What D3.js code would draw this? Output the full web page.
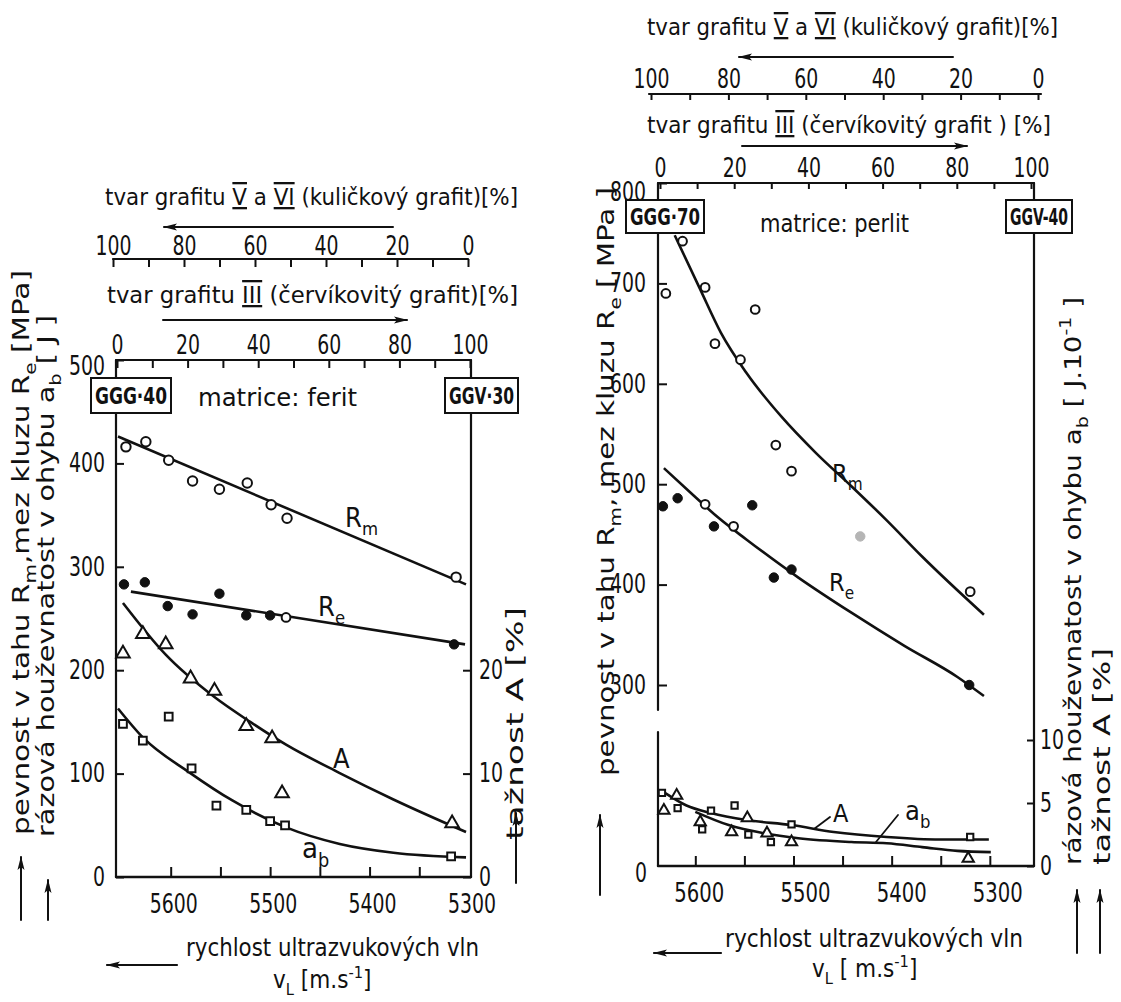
<!DOCTYPE html>
<html><head><meta charset="utf-8">
<script src="https://cdn.jsdelivr.net/npm/d3@7"></script>
<style>
body{margin:0;background:#fff}
svg{display:block;background:#fff}
text{font-family:"DejaVu Sans Condensed","DejaVu Sans",sans-serif;font-weight:bold;fill:#111}
</style></head><body>
<script>
// ================= DATA =================
const pctTickValues = [0,10,20,30,40,50,60,70,80,90,100];
const pctLabels = [0,20,40,60,80,100];

// left panel (matrice: ferit)
const L_velTicks = [5600,5550,5500,5450,5400,5350];
const L_velLabels = [5600,5500,5400,5300];
const L_stressTicks = [0,100,200,300,400,500];
const L_elongTicks = [0,10,20];
const L_Rm_pts = [[5645,416],[5625,421],[5602,403],[5578,383],[5551,375],[5523,381],[5499,360],[5483,347],[5313,290]];
const L_Rm_fit = [[5653,426],[5303,283]];
const L_Re_pts = [[5647,283],[5626,285],[5603,262],[5578,254],[5551,274],[5524,253],[5500,253],[5315,225]];
const L_Re_open = [[5484,251]];
const L_Re_fit = [[5640,276],[5304,225]];
const L_A_pts = [[5648,21.6],[5628,23.5],[5605,22.5],[5580,19.2],[5556,18.0],[5524,14.6],[5498,13.4],[5488,8.1],[5317,5.2]];
const L_A_fit = [[5648,26.5],[5605,21.5],[5556,17.4],[5520,15.0],[5484,12.8],[5431,10.1],[5376,7.5],[5303,4.35]];
const L_ab_pts = [[5648,148],[5628,132],[5602,155],[5579,105],[5554,69],[5524,65],[5500,54],[5485,50],[5318,20]];
const L_ab_fit = [[5653,163],[5628,135],[5581,101],[5538,74],[5484,48],[5430,32],[5376,23.5],[5303,19]];

// right panel (matrice: perlit)
const R_velTicks = [5600,5550,5500,5450,5400,5350,5300];
const R_velLabels = [5600,5500,5400,5300];
const R_stressTicks = [300,400,500,600,700,800];
const R_lowTicks = [0,5,10];
const R_Rm_pts = [[5630,690],[5613,742],[5590,696],[5580,640],[5554,624],[5539,674],[5518,539],[5502,513],[5320,393]];
const R_Rm_fit = [[5621,748],[5595,694],[5574,651],[5548,611],[5512,567],[5477,531],[5441,498],[5405,464],[5369,428],[5306,370]];
const R_Re_pts = [[5633,478],[5618,486],[5581,458],[5542,479],[5520,407],[5502,415],[5321,300]];
const R_Re_open = [[5590,480],[5561,458]];
const R_Re_fit = [[5632,516],[5602,489],[5577,467],[5548,445],[5495,407],[5441,372],[5387,339],[5333,308],[5306,289]];
const R_grey = [[5432,448]];
const R_A_pts = [[5632,4.4],[5619,5.6],[5595,3.5],[5563,2.7],[5547,3.8],[5527,2.6],[5502,1.9],[5322,0.6]];
const R_A_fit = [[5631,5.8],[5609,4.8],[5584,4.2],[5548,3.65],[5502,3.25],[5459,2.7],[5405,2.3],[5351,2.1],[5301,2.1]];
const R_ab_pts = [[5634,5.8],[5618,4.6],[5584,4.4],[5593,2.9],[5560,4.8],[5546,2.5],[5523,1.9],[5502,3.3],[5320,2.3]];
const R_ab_fit = [[5600,4.3],[5566,3.25],[5530,2.6],[5495,2.2],[5441,1.9],[5405,1.8],[5369,1.5],[5333,1.2],[5299,1.1]];

// ================= HELPERS =================
const W=1121,H=1002;
const svg=d3.select("body").append("svg").attr("width",W).attr("height",H);
const defs=svg.append("defs");
defs.append("marker").attr("id","ah").attr("viewBox","0 0 14 8").attr("refX",13).attr("refY",4)
  .attr("markerWidth",14).attr("markerHeight",8).attr("markerUnits","userSpaceOnUse").attr("orient","auto")
  .append("path").attr("d","M0,0.5 L14,4 L0,7.5 L3,4 Z").attr("fill","#111");

function rich(sel,str,fs){
  const parts=str.split(/(_\{[^}]*\}|\^\{[^}]*\}|\|[^|]*\|)/).filter(s=>s.length);
  let shift=0;
  parts.forEach(p=>{
    const ts=sel.append("tspan");
    let target=0,txt=p,small=false,bar=false;
    if(p.startsWith("_{")){target=0.3*fs;txt=p.slice(2,-1);small=true;}
    else if(p.startsWith("^{")){target=-0.42*fs;txt=p.slice(2,-1);small=true;}
    else if(p.startsWith("|")){txt=p.slice(1,-1);bar=true;}
    if(target!==shift){ts.attr("dy",(target-shift));shift=target;}
    if(small)ts.style("font-size",(fs*0.68)+"px");
    if(bar)ts.style("text-decoration","underline overline");
    ts.text(txt);
  });
}
function label(x,y,str,fs,opt={}){
  const t=svg.append("text").attr("x",x).attr("y",y).style("font-size",fs+"px")
    .attr("text-anchor",opt.anchor||"start");
  if(opt.w)t.style("font-weight",opt.w);
  if(opt.len)t.attr("textLength",opt.len).attr("lengthAdjust","spacingAndGlyphs");
  if(opt.rot){t.attr("transform",`rotate(-90,${x},${y})`);}
  rich(t,str,fs);
  return t;
}
function line(x1,y1,x2,y2,w=2,arrow=false){
  const l=svg.append("line").attr("x1",x1).attr("y1",y1).attr("x2",x2).attr("y2",y2)
    .attr("stroke","#111").attr("stroke-width",w).attr("stroke-linecap","round");
  if(arrow)l.attr("marker-end","url(#ah)");
}
function box(x,y,w,h,str,fs){
  svg.append("rect").attr("x",x).attr("y",y).attr("width",w).attr("height",h)
    .attr("fill","#fff").attr("stroke","#111").attr("stroke-width",2);
  label(x+w/2,y+h/2+fs*0.36,str,fs,{anchor:"middle",len:w-8});
}
function curve(data,x,y,w=2.6,cv=d3.curveMonotoneX){
  const d=[...data].sort((a,b)=>x(a[0])-x(b[0]));
  svg.append("path").attr("d",d3.line().x(p=>x(p[0])).y(p=>y(p[1])).curve(cv)(d))
    .attr("fill","none").attr("stroke","#111").attr("stroke-width",w);
}
function points(data,x,y,type,filled,size,col="#111"){
  const sym={circle:d3.symbolCircle,triangle:d3.symbolTriangle,square:d3.symbolSquare}[type];
  svg.append("g").selectAll("path").data(data).join("path")
    .attr("transform",p=>`translate(${x(p[0])},${y(p[1])})`)
    .attr("d",d3.symbol().type(sym).size(size))
    .attr("fill",filled?col:"#fff").attr("stroke",col).attr("stroke-width",filled?1:2);
}
function numFit(sel,per){
  sel.each(function(){const s=this.textContent;if(s.length)d3.select(this).attr("textLength",s.length*per).attr("lengthAdjust","spacingAndGlyphs");});
}
function styleAxis(g,fs,per=12){
  g.select(".domain").remove();
  g.selectAll(".tick line").attr("stroke","#111").attr("stroke-width",2);
  const t=g.selectAll(".tick text").style("font-size",fs+"px").attr("fill","#111")
   .style("font-family",'"DejaVu Sans Condensed","DejaVu Sans",sans-serif').style("font-weight","normal");
  numFit(t,per);
  return g;
}
const fmtPct=d=>pctLabels.includes(d)?d:"";

// ================= LEFT PANEL =================
{
  const X0=116,X1=471,Y0=360,Y1=877;
  const x=d3.scaleLinear().domain([5655,5298]).range([X0,X1]);
  const y=d3.scaleLinear().domain([0,500]).range([Y1,Y0]);
  const yA=d3.scaleLinear().domain([0,50]).range([Y1,Y0]);
  const pLow=d3.scaleLinear().domain([0,100]).range([X0+1,X1-1]);
  const pUp=d3.scaleLinear().domain([100,0]).range([113,468]);

  styleAxis(svg.append("g").attr("transform",`translate(0,259)`)
    .call(d3.axisTop(pUp).tickValues(pctTickValues).tickFormat(fmtPct).tickSize(-8).tickPadding(4)),26);
  line(113,259,468,259,2.2);
  styleAxis(svg.append("g").attr("transform",`translate(0,${Y0})`)
    .call(d3.axisTop(pLow).tickValues(pctTickValues).tickFormat(fmtPct).tickSize(-8).tickPadding(6)),26);
  label(105,205,"tvar  grafitu |V| a |VI| (kuličkový grafit)[%]",23,{len:413,w:"normal"});
  line(393,227,164,227,2,true);
  label(107,303,"tvar  grafitu |III|    (červíkovitý grafit)[%]",23,{len:411,w:"normal"});
  line(163,320,407,320,2,true);

  line(X0,Y0,X1,Y0,2.2); line(X0,Y0,X0,Y1,2.2); line(X1,Y0,X1,Y1,2.2); line(X0,Y1,X1,Y1,2.4);

  const ga=styleAxis(svg.append("g").attr("transform",`translate(${X0},0)`)
    .call(d3.axisLeft(y).tickValues(L_stressTicks).tickSize(-8).tickPadding(11)),26);
  ga.selectAll(".tick text").filter(d=>d===500).attr("y",6);
  styleAxis(svg.append("g").attr("transform",`translate(${X1},0)`)
    .call(d3.axisRight(yA).tickValues(L_elongTicks).tickSize(-8).tickPadding(8)),26);
  styleAxis(svg.append("g").attr("transform",`translate(0,${Y1})`)
    .call(d3.axisBottom(x).tickValues(L_velTicks).tickFormat(()=>"" ).tickSize(-10)),26);
  numFit(svg.append("g").selectAll("text").data(L_velLabels).join("text")
    .attr("x",d=>x(d)+3).attr("y",913).attr("text-anchor","middle").style("font-size","26px").style("font-weight","normal").text(d=>d),12);

  box(91,378,80,35,"GGG·40",23);
  box(445,378,73,35,"GGV·30",23);
  label(198,406,"matrice:  ferit",24,{len:159,w:"normal"});

  curve(L_Rm_fit,x,y,2.6,d3.curveLinear);
  curve(L_Re_fit,x,y,2.6,d3.curveLinear);
  curve(L_A_fit,x,yA);
  curve(L_ab_fit,x,y);
  points(L_Rm_pts,x,y,"circle",false,70);
  points(L_Re_pts,x,y,"circle",true,70);
  points(L_Re_open,x,y,"circle",false,60);
  points(L_A_pts,x,yA,"triangle",false,80);
  points(L_ab_pts,x,y,"square",false,60);

  label(345,527,"R_{m}",27,{w:"normal"});
  label(318,616,"R_{e}",27,{w:"normal"});
  label(333,768,"A",27,{w:"normal"});
  label(302,858,"a_{b}",29,{w:"normal"});

  label(29,835,"pevnost  v  tahu  R_{m},mez  kluzu  R_{e} [MPa]",23,{rot:true,len:565,w:"normal"});
  label(54,837,"rázová  houževnatost  v  ohybu  a_{b} [ J ]",23,{rot:true,len:522,w:"normal"});
  line(21,920,21,857,2,true);
  line(48,920,48,880,2,true);
  label(523,840,"tažnost  A [%]",23,{rot:true,len:233,w:"normal"});
  line(516,883,516,813,2,true);
  label(186,956,"rychlost  ultrazvukových  vln",24,{len:293,w:"normal"});
  label(273,988,"v_{L}  [m.s^{-1}]",24,{w:"normal"});
  line(177,965,107,965,2.2,true);
}

// ================= RIGHT PANEL =================
{
  const X0=658,X1=1034,Y0=183,YB=710,YL0=732,Y1=866;
  const x=d3.scaleLinear().domain([5638,5255]).range([X0,X1]);
  const y=d3.scaleLinear().domain([300,800]).range([685,183]);
  const yl=d3.scaleLinear().domain([0,10]).range([Y1,740]);
  const pLow=d3.scaleLinear().domain([0,100]).range([X0+2,X1-3]);
  const pUp=d3.scaleLinear().domain([100,0]).range([651,1038]);

  styleAxis(svg.append("g").attr("transform",`translate(0,94)`)
    .call(d3.axisTop(pUp).tickValues(pctTickValues).tickFormat(fmtPct).tickSize(-6).tickPadding(6)),26);
  line(649,94,1041,94,2.2);
  styleAxis(svg.append("g").attr("transform",`translate(0,${Y0})`)
    .call(d3.axisTop(pLow).tickValues(pctTickValues).tickFormat(fmtPct).tickSize(-6).tickPadding(6)),26);
  label(647,35,"tvar grafitu |V| a |VI| (kuličkový grafit)[%]",23,{len:411,w:"normal"});
  line(953,57,739,57,2,true);
  label(647,133,"tvar  grafitu |III| (červíkovitý grafit ) [%]",23,{len:404,w:"normal"});
  line(742,146,967,146,2,true);

  line(X0,Y0,X1,Y0,2.2); line(X0,Y0,X0,YB,2.2); line(X0,YL0,X0,Y1,2.2);
  line(X1,Y0,X1,Y1,2.2); line(X0,Y1,X1,Y1,2.4);

  const ga=styleAxis(svg.append("g").attr("transform",`translate(${X0},0)`)
    .call(d3.axisLeft(y).tickValues(R_stressTicks).tickSize(-9).tickPadding(12)),26);
  ga.selectAll(".tick text").filter(d=>d===800).attr("y",9);
  numFit(label(647,882,"0",26,{anchor:"end",w:"normal"}),12);
  styleAxis(svg.append("g").attr("transform",`translate(${X1},0)`)
    .call(d3.axisRight(yl).tickValues(R_lowTicks).tickFormat(d=>d).tickSize(-7).tickPadding(6)),26);
  styleAxis(svg.append("g").attr("transform",`translate(0,${Y1})`)
    .call(d3.axisBottom(x).tickValues(R_velTicks).tickFormat(()=>"").tickSize(-10)),26);
  numFit(svg.append("g").selectAll("text").data(R_velLabels).join("text")
    .attr("x",(d,i)=>x(d)+[4,12,10,8][i]).attr("y",902).attr("text-anchor","middle").style("font-size","26px").style("font-weight","normal").text(d=>d),12.5);

  box(626,200,78,33,"GGG·70",23);
  box(1006,200,66,33,"GGV-40",23);
  label(760,232,"matrice: perlit",24,{len:149,w:"normal"});

  curve(R_Rm_fit,x,y);
  curve(R_Re_fit,x,y);
  curve(R_A_fit,x,yl);
  curve(R_ab_fit,x,yl);
  points(R_grey,x,y,"circle",true,70,"#b5b5b5");
  points(R_Rm_pts,x,y,"circle",false,60);
  points(R_Re_pts,x,y,"circle",true,70);
  points(R_Re_open,x,y,"circle",false,60);
  points(R_A_pts,x,yl,"triangle",false,55);
  points(R_ab_pts,x,yl,"square",false,40);

  label(832,482,"R_{m}",25,{w:"normal"});
  label(829,591,"R_{e}",25,{w:"normal"});
  label(833,822,"A",25,{w:"normal"});
  label(905,820,"a_{b}",27,{w:"normal"});
  line(830,817,814,829,1.8);
  line(898,815,876,842,1.8);

  label(614,776,"pevnost  v  tahu  R_{m}, mez  kluzu  R_{e} [ MPa ]",23,{rot:true,len:589,w:"normal"});
  line(600,895,600,815,2,true);
  label(1081,865,"rázová  houževnatost  v  ohybu  a_{b}  [ J.10^{-1} ]",23,{rot:true,len:568,w:"normal"});
  label(1110,865,"tažnost  A   [%]",23,{rot:true,len:217,w:"normal"});
  line(1077,953,1077,890,2,true);
  line(1100,953,1100,890,2,true);
  label(725,947,"rychlost  ultrazvukových  vln",24,{len:298,w:"normal"});
  label(812,977,"v_{L}   [ m.s^{-1}]",24,{w:"normal"});
  line(721,953,654,953,2.2,true);
}
</script>
</body></html>
